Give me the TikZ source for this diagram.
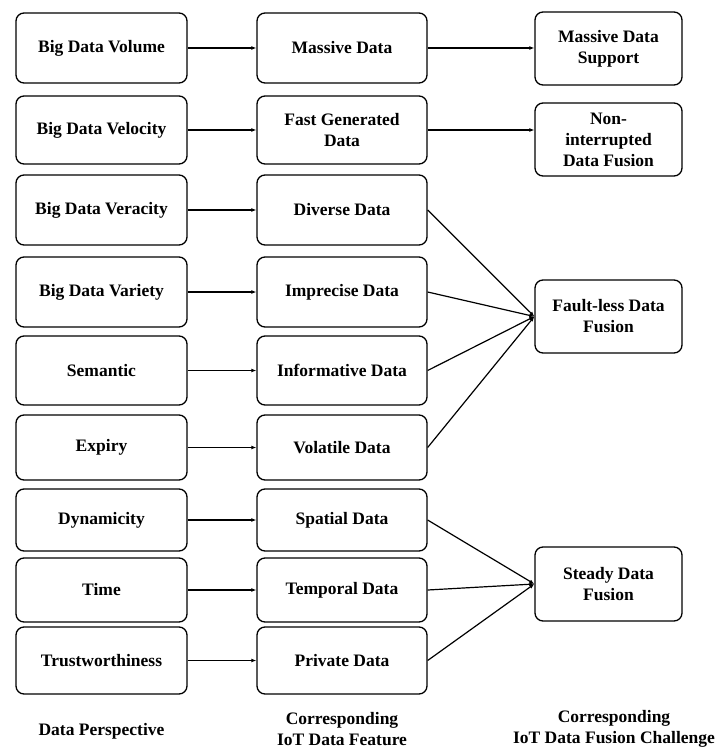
\documentclass[tikz,border=0pt]{standalone}
\usepackage{fontspec}
\setmainfont{Liberation Serif}
\usetikzlibrary{arrows.meta}
\begin{document}
\begin{tikzpicture}[x=1pt,y=-1pt,
  box/.style={draw,line width=1.3pt,rounded corners=8pt,align=center,inner sep=2pt,
    font=\fontsize{17.5}{21}\selectfont\bfseries},
  lbox/.style={box,minimum width=171pt},
  mbox/.style={box,minimum width=170pt},
  rbox/.style={box,minimum width=147pt,minimum height=73pt},
  arr/.style={line width=1.2pt,-{Latex[length=5pt,width=4pt]}},
  lab/.style={align=center,font=\fontsize{17.5}{21}\selectfont\bfseries}]
\useasboundingbox (0,0) rectangle (716,751);
% left column
\node[lbox,minimum height=70pt] (l1) at (101.5,48) {Big Data Volume};
\node[lbox,minimum height=68pt] (l2) at (101.5,130) {Big Data Velocity};
\node[lbox,minimum height=70pt] (l3) at (101.5,210) {Big Data Veracity};
\node[lbox,minimum height=70pt] (l4) at (101.5,292) {Big Data Variety};
\node[lbox,minimum height=69pt] (l5) at (101.5,370.5) {Semantic};
\node[lbox,minimum height=65pt] (l6) at (101.5,447.5) {Expiry};
\node[lbox,minimum height=62pt] (l7) at (101.5,520) {Dynamicity};
\node[lbox,minimum height=64pt] (l8) at (101.5,590) {Time};
\node[lbox,minimum height=67pt] (l9) at (101.5,660.5) {Trustworthiness};
% middle column
\node[mbox,minimum height=70pt] (m1) at (342,48) {Massive Data};
\node[mbox,minimum height=68pt] (m2) at (342,130) {Fast Generated\\Data};
\node[mbox,minimum height=70pt] (m3) at (342,210) {Diverse Data};
\node[mbox,minimum height=70pt] (m4) at (342,292) {Imprecise Data};
\node[mbox,minimum height=69pt] (m5) at (342,370.5) {Informative Data};
\node[mbox,minimum height=65pt] (m6) at (342,447.5) {Volatile Data};
\node[mbox,minimum height=62pt] (m7) at (342,520) {Spatial Data};
\node[mbox,minimum height=64pt] (m8) at (342,590) {Temporal Data};
\node[mbox,minimum height=67pt] (m9) at (342,660.5) {Private Data};
% right column
\node[rbox] (r1) at (608.5,48.5) {Massive Data\\Support};
\node[rbox] (r2) at (608.5,139.5) {Non-\\interrupted\\Data Fusion};
\node[rbox] (r3) at (608.5,316.5) {Fault-less Data\\Fusion};
\node[rbox,minimum height=74pt] (r4) at (608.5,584) {Steady Data\\Fusion};
% arrows left to middle
\foreach \i in {1,...,9} {\draw[arr] (l\i.east) -- (m\i.west);}
% middle to right
\coordinate (t1) at (r1.west |- m1.east);
\coordinate (t2) at (r2.west |- m2.east);
\draw[arr] (m1.east) -- (t1);
\draw[arr] (m2.east) -- (t2);
\foreach \i in {3,4,5,6} {\draw[arr] (m\i.east) -- (r3.west);}
\foreach \i in {7,8,9} {\draw[arr] (m\i.east) -- (r4.west);}
% bottom labels
\node[lab] (c1) at (101.5,731) {Data Perspective};
\node[lab] (c2) at (342,729) {Corresponding\\IoT Data Feature};
\node[lab] (c3) at (614,729) {Corresponding\\IoT Data Fusion Challenge};
\end{tikzpicture}
\end{document}
